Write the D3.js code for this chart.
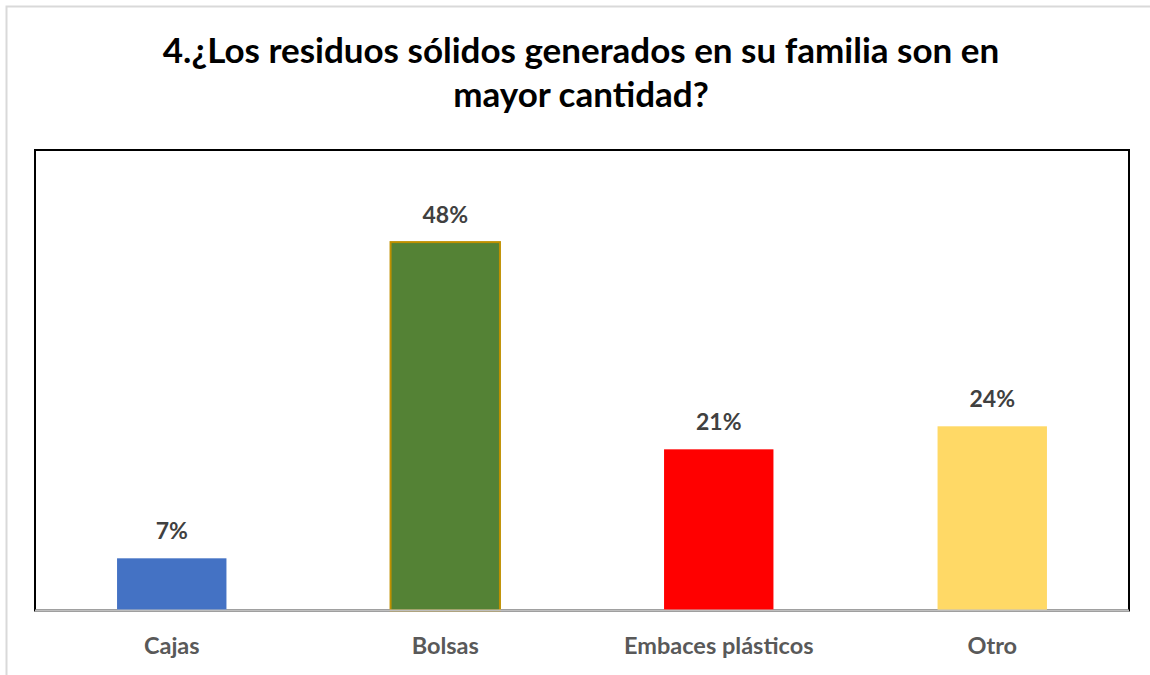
<!DOCTYPE html>
<html><head><meta charset="utf-8">
<script src="https://cdn.jsdelivr.net/npm/d3@7"></script>
<style>body{margin:0;background:#fff}svg{display:block}</style>
</head><body>
<script>
const categories = ["Cajas", "Bolsas", "Embaces plásticos", "Otro"];
const values = [0.068, 0.48, 0.21, 0.24];
const labels = ["7%", "48%", "21%", "24%"];
const colors = ["#4472C4", "#548235", "#FF0000", "#FFD966"];
const strokes = ["none", "#BF9000", "none", "none"];
const titleLines = ["4.¿Los residuos sólidos generados en su familia son en", "mayor cantidad?"];

(function () {
const W = 1150, H = 675;
const svg = d3.select("body").append("svg").attr("width", W).attr("height", H);
const font = "Lato, 'Open Sans', sans-serif";

svg.append("rect").attr("x", 6.5).attr("y", 6.5).attr("width", W).attr("height", H)
  .attr("fill", "#fff").attr("stroke", "#d9d9d9").attr("stroke-width", 2);

const pl = 35, pr = 1129, pt = 150, pb = 610.5;
const x = d3.scaleBand().domain(categories).range([pl, pr]).paddingInner(0.6).paddingOuter(0.3);
const y = d3.scaleLinear().domain([0, 0.6]).range([pb, pt]);

svg.append("rect").attr("x", pl).attr("y", pt).attr("width", pr - pl).attr("height", pb - pt)
  .attr("fill", "none").attr("stroke", "#000").attr("stroke-width", 2);

svg.selectAll(".bar").data(categories).join("rect")
  .attr("x", d => x(d)).attr("width", x.bandwidth())
  .attr("y", (d, i) => y(values[i])).attr("height", (d, i) => y(0) - y(values[i]))
  .attr("fill", (d, i) => colors[i])
  .attr("stroke", (d, i) => strokes[i]).attr("stroke-width", 2);

const xAxis = svg.append("g").attr("transform", `translate(0,${pb})`)
  .call(d3.axisBottom(x).tickSize(0).tickPadding(27));
xAxis.select(".domain").attr("stroke", "#bfbfbf").attr("stroke-width", 2).attr("d", `M${pl},0H${pr}`);
xAxis.selectAll("text").attr("font-family", font).attr("font-weight", "bold")
  .attr("font-size", 23.5).attr("fill", "#595959");

svg.selectAll(".lbl").data(categories).join("text")
  .attr("x", d => x(d) + x.bandwidth() / 2)
  .attr("y", (d, i) => y(values[i]) - 19)
  .attr("text-anchor", "middle").attr("font-family", font).attr("font-weight", "bold")
  .attr("font-size", 23).attr("fill", "#404040")
  .text((d, i) => labels[i]);

svg.selectAll(".title").data(titleLines).join("text")
  .attr("x", 581).attr("y", (d, i) => 62.5 + i * 44)
  .attr("text-anchor", "middle").attr("font-family", font).attr("font-weight", "bold")
  .attr("font-size", 35).attr("fill", "#000")
  .text(d => d);
})();
</script>
</body></html>
